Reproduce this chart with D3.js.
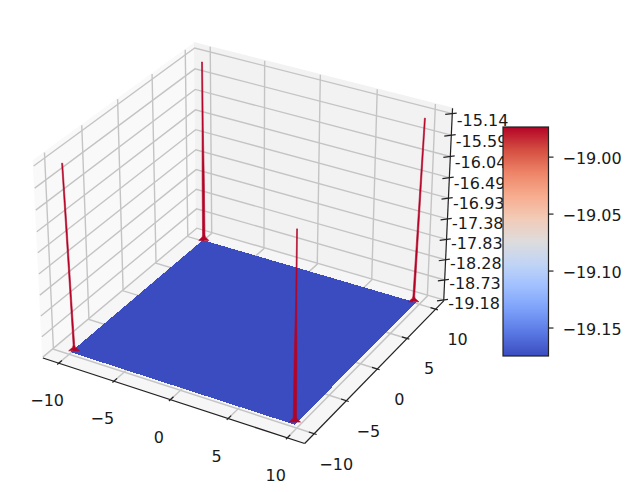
<!DOCTYPE html>
<html>
<head>
<meta charset="utf-8">
<script src="https://cdn.jsdelivr.net/npm/d3@7"></script>
<style>
  html, body { margin: 0; padding: 0; background: #fff; }
  text { font-family: "DejaVu Sans", sans-serif; font-size: 16px; fill: #1a1a1a; }
</style>
</head>
<body>
<svg id="chart" width="631" height="492"></svg>
<script>
// data
const xTicks = [-10, -5, 0, 5, 10];
const yTicks = [-10, -5, 0, 5, 10];
const zTickLabels = ['-19.18', '-18.73', '-18.28', '-17.83', '-17.38', '-16.93', '-16.49', '-16.04', '-15.59', '-15.14'];
const colorTicks = [-19.15, -19.10, -19.05, -19.00];
const colorRange = [-19.175, -18.974];
const coolwarm = ['#3b4cc0', '#5977e3', '#7b9ff9', '#9ebeff', '#c0d4f5', '#dddcdc', '#f2cbb7', '#f7ac8e', '#ee8468', '#d44e41', '#b40426'];

// surface: flat floor, with a spike at each grid corner
const surfaceX = [-10, 9.7];
const surfaceY = [-9.8, 10];
const surfaceZ = -19.18;
const spikeX = [-9.9, 9.5, -9.87, 9.55];
const spikeY = [10, 10, -9.5, -9.5];
const spikeZ = [-19.18, -19.1, -19.05, -17.85, -16.6, -15.2];
const spikeLean = [0, 0, 0, 0.1, 0.2, 0.32];
const spikeSide = [0, 1, -1, 0];
const spikeWidths = [
  [0.42, 0.13, 0.1, 0.09, 0.05, 0.04], // back
  [0.42, 0.1, 0.07, 0.06, 0.05, 0.04], // right
  [0.42, 0.1, 0.06, 0.05, 0.05, 0.04], // left
  [0.42, 0.14, 0.12, 0.1, 0.04, 0.03], // front
];

const limX = [-11.45, 11.45];
const limY = [-11.45, 11.45];
const limZ = [-19.2, -15.03];

// 3D view (elev 30, azim -60)
const box = [1.19, 1.19, 0.893];
const dist = 10;
const right = [0.866, 0.5, 0];
const up = [-0.25, 0.433, 0.866];
const toEye = [0.433, -0.75, 0.5];

const xBox = d3.scaleLinear().domain(limX).range([-box[0] / 2, box[0] / 2]);
const yBox = d3.scaleLinear().domain(limY).range([-box[1] / 2, box[1] / 2]);
const zBox = d3.scaleLinear().domain(limZ).range([-box[2] / 2, box[2] / 2]);

const focal = 2520;
const cx = 247;
const cy = 233.6;

function project(x, y, z) {
  const q = [xBox(x), yBox(y), zBox(z)];
  const dot = (a) => a[0] * q[0] + a[1] * q[1] + a[2] * q[2];
  const depth = dist - dot(toEye);
  return [cx + (focal * dot(right)) / depth, cy - (focal * dot(up)) / depth];
}

const svg = d3.select('#chart');
const line = d3.line();
const poly = (pts) => line(pts.map((p) => project(p[0], p[1], p[2]))) + 'Z';

const [x0, x1] = limX;
const [y0, y1] = limY;
const [z0, z1] = limZ;

// panes
const panes = [
  { fill: '#f9f9f9', pts: [[x0, y0, z0], [x0, y1, z0], [x0, y1, z1], [x0, y0, z1]] },
  { fill: '#f2f2f2', pts: [[x0, y1, z0], [x1, y1, z0], [x1, y1, z1], [x0, y1, z1]] },
  { fill: '#f6f6f6', pts: [[x0, y0, z0], [x1, y0, z0], [x1, y1, z0], [x0, y1, z0]] },
];
svg.append('g').selectAll('path').data(panes).join('path')
  .attr('d', (d) => poly(d.pts))
  .attr('fill', (d) => d.fill)
  .attr('stroke', (d) => d.fill)
  .attr('stroke-width', 1.5);

// grid lines
const grid = svg.append('g').attr('fill', 'none').attr('stroke', '#c4c4c4').attr('stroke-width', 1.4);
const zTicks = zTickLabels.map(Number);
function gridLine(pts) {
  grid.append('path').attr('d', line(pts.map((p) => project(p[0], p[1], p[2]))));
}
xTicks.forEach((t) => gridLine([[t, y0, z0], [t, y1, z0], [t, y1, z1]]));
yTicks.forEach((t) => gridLine([[x1, t, z0], [x0, t, z0], [x0, t, z1]]));
zTicks.forEach((t) => gridLine([[x0, y0, t], [x0, y1, t], [x1, y1, t]]));

// color scale
const colorScale = d3.scaleLinear()
  .domain(coolwarm.map((c, i) => colorRange[0] + ((colorRange[1] - colorRange[0]) * i) / (coolwarm.length - 1)))
  .range(coolwarm)
  .clamp(true);

// surface
svg.append('path')
  .attr('d', poly([
    [surfaceX[0], surfaceY[0], surfaceZ],
    [surfaceX[1], surfaceY[0], surfaceZ],
    [surfaceX[1], surfaceY[1], surfaceZ],
    [surfaceX[0], surfaceY[1], surfaceZ],
  ]))
  .attr('fill', colorScale(surfaceZ))
  .attr('shape-rendering', 'crispEdges');

// spikes
spikeWidths.forEach((widths, i) => {
  const side = (sign) => spikeZ.map((z, k) => {
    const off = sign * widths[k] + spikeSide[i] * spikeLean[k];
    return [spikeX[i] + off * right[0], spikeY[i] + off * right[1], z];
  });
  svg.append('path')
    .attr('d', poly(side(-1).concat(side(1).reverse())))
    .attr('fill', colorScale(colorRange[1]))
    .attr('stroke', colorScale(colorRange[1]))
    .attr('stroke-width', 0.6);
});

// axis lines and ticks
const axes = svg.append('g').attr('fill', 'none').attr('stroke', '#222').attr('stroke-width', 1.2);
function axisLine(pts) {
  axes.append('path').attr('d', line(pts.map((p) => project(p[0], p[1], p[2]))));
}
axisLine([[x0, y0, z0], [x1, y0, z0]]);
axisLine([[x1, y0, z0], [x1, y1, z0]]);
axisLine([[x1, y1, z0], [x1, y1, z1]]);
xTicks.forEach((t) => axisLine([[t, y0 - 0.2, z0], [t, y0 + 0.45, z0]]));
yTicks.forEach((t) => axisLine([[x1 + 0.2, t, z0], [x1 - 0.45, t, z0]]));
zTicks.forEach((t) => axisLine([[x1 + 0.25, y1 + 0.25, t], [x1 - 0.4, y1 - 0.4, t]]));

// tick labels
const labels = svg.append('g');
const fmt = d3.format('d');
xTicks.forEach((t) => {
  const p = project(t, y0, z0);
  labels.append('text').attr('x', p[0] - 11.5).attr('y', p[1] + 43).attr('text-anchor', 'middle').text(fmt(t));
});
yTicks.forEach((t) => {
  const p = project(x1, t, z0);
  labels.append('text').attr('x', p[0] + 22).attr('y', p[1] + 36).attr('text-anchor', 'middle').text(fmt(t));
});
zTickLabels.forEach((t, i) => {
  const p = project(x1, y1, zTicks[i]);
  labels.append('text').attr('x', p[0] + 4.5).attr('y', p[1] + 9 + (i / 9) * 3).text(t);
});

// colorbar
const barX = 503;
const barW = 45.5;
const barY = d3.scaleLinear().domain(colorRange).range([356, 127]);
const defs = svg.append('defs');
const grad = defs.append('linearGradient').attr('id', 'cbar')
  .attr('x1', 0).attr('x2', 0).attr('y1', 1).attr('y2', 0);
coolwarm.forEach((c, i) => {
  grad.append('stop').attr('offset', i / (coolwarm.length - 1)).attr('stop-color', c);
});
svg.append('rect')
  .attr('x', barX).attr('y', barY(colorRange[1]))
  .attr('width', barW).attr('height', barY(colorRange[0]) - barY(colorRange[1]))
  .attr('fill', 'url(#cbar)')
  .attr('stroke', '#222').attr('stroke-width', 1.2);

const cAxis = svg.append('g')
  .attr('transform', `translate(${barX + barW},0)`)
  .call(d3.axisRight(barY).tickValues(colorTicks).tickFormat(d3.format('.2f')).tickSize(5).tickPadding(9));
cAxis.select('.domain').remove();
cAxis.selectAll('line').attr('stroke', '#222').attr('stroke-width', 1.2);
cAxis.selectAll('text').attr('dy', '0.42em').style('font-size', '16px').style('font-family', '"DejaVu Sans", sans-serif');
</script>
</body>
</html>
